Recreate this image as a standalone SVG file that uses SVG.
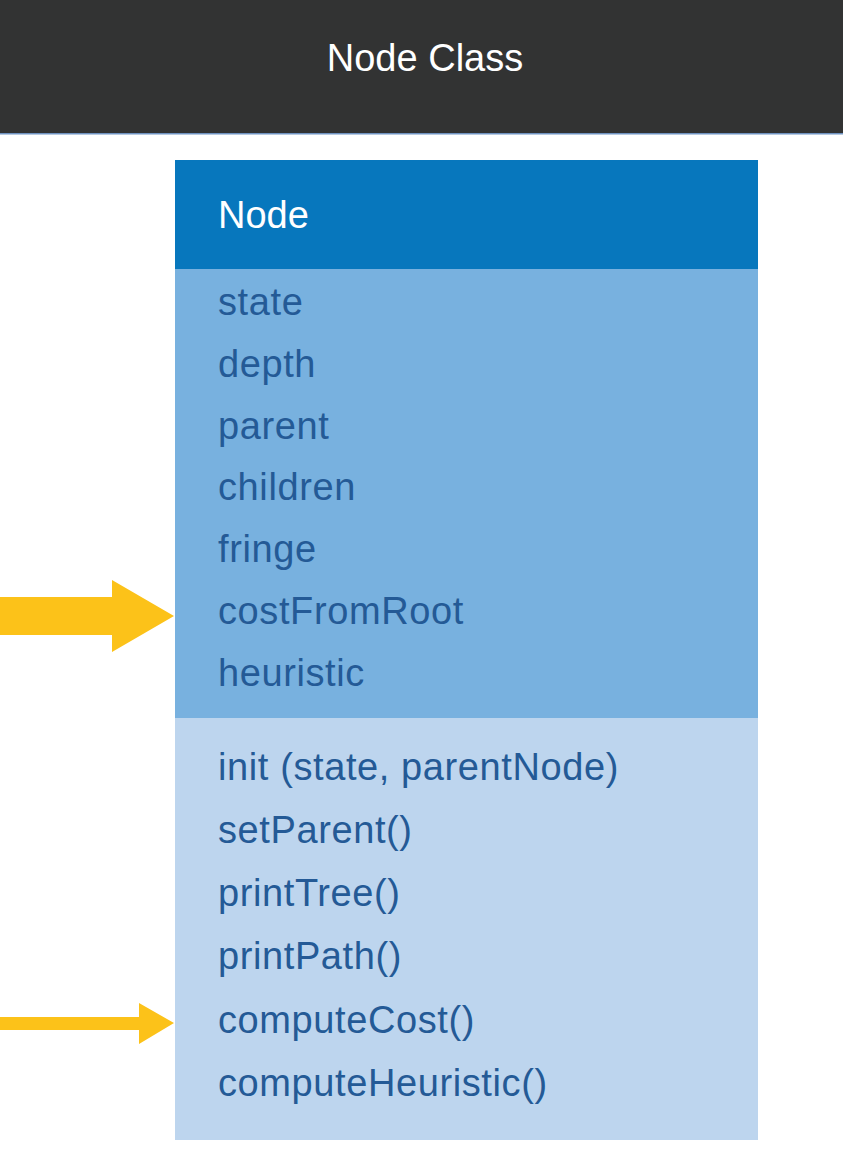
<svg xmlns="http://www.w3.org/2000/svg" width="843" height="1159" viewBox="0 0 843 1159">
<style>
.t{font-family:"Liberation Sans",Arial,sans-serif;font-size:38px;letter-spacing:0.6px;fill:#245A96}
.w{font-family:"Liberation Sans",Arial,sans-serif;font-size:38px;fill:#FFFFFF}
.arrow{fill:#FCC219}
</style>
<rect x="0" y="0" width="843" height="1159" fill="#FFFFFF"/>
<g id="title-bar">
<rect x="0" y="0" width="843" height="133" fill="#323333"/>
<rect x="0" y="133" width="843" height="1.5" fill="#6F93C2"/>
<text class="w" x="425" y="71" text-anchor="middle">Node Class</text>
</g>
<g id="node-class">
<rect x="175" y="160" width="583" height="109" fill="#0777BD"/>
<text class="w" x="218" y="228">Node</text>
<rect x="175" y="269" width="583" height="449" fill="#78B1DF"/>
<text class="t" x="218" y="315">state</text>
<text class="t" x="218" y="377">depth</text>
<text class="t" x="218" y="439">parent</text>
<text class="t" x="218" y="500">children</text>
<text class="t" x="218" y="562">fringe</text>
<text class="t" x="218" y="624">costFromRoot</text>
<text class="t" x="218" y="686">heuristic</text>
<rect x="175" y="718" width="583" height="422" fill="#BDD5EE"/>
<text class="t" x="218" y="780">init (state, parentNode)</text>
<text class="t" x="218" y="843">setParent()</text>
<text class="t" x="218" y="906">printTree()</text>
<text class="t" x="218" y="969">printPath()</text>
<text class="t" x="218" y="1033">computeCost()</text>
<text class="t" x="218" y="1096">computeHeuristic()</text>
</g>
<g id="connectors">
<polygon class="arrow" points="0,597 112,597 112,580 174,616 112,652 112,635 0,635"/>
<polygon class="arrow" points="0,1017 139,1017 139,1003 174,1023 139,1044 139,1030 0,1030"/>
</g>
</svg>
